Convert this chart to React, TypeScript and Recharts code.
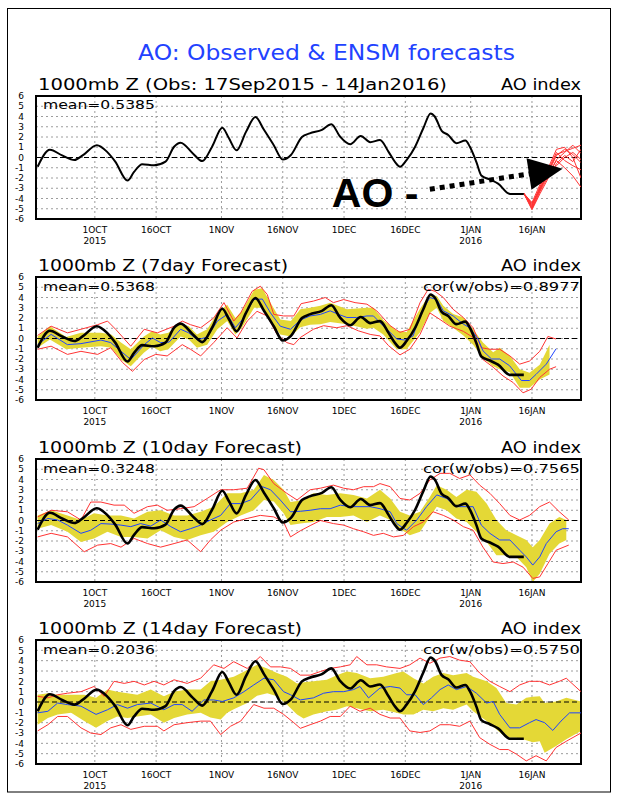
import React from 'react';
import { ComposedChart, Line, Area, XAxis, YAxis, CartesianGrid, ReferenceLine, ReferenceArea } from 'recharts';

// ---- axes ----
const tickDays = [14, 29, 45, 60, 75, 90, 106, 121];
const tickLabels = ['1OCT', '16OCT', '1NOV', '16NOV', '1DEC', '16DEC', '1JAN', '16JAN'];
const tickYears = ['2015', '', '', '', '', '', '2016', ''];
const yTicks = [-6, -5, -4, -3, -2, -1, 0, 1, 2, 3, 4, 5, 6];

// ---- observed AO (day 0 = 17 Sep 2015) ----
const obsAO: number[][] = [[0,-0.9],[3,0.75],[6,0.2],[9,-0.25],[11,0.2],[14.5,1.2],[17,0.55],[19,-0.4],[22,-2.25],[23.6,-1.4],[25.6,-0.65],[28.5,-0.75],[31.3,-0.4],[33.4,1.05],[35,1.45],[38,0.4],[40.3,-0.35],[42.7,1.05],[45.2,2.9],[46.8,1.9],[48.7,0.7],[51,2.5],[53.3,3.95],[55.4,2.7],[57.8,1.2],[60,-0.2],[62,0.25],[64.7,2.0],[66.6,2.35],[69.6,2.7],[71.9,3.25],[74,2.05],[76.5,1.3],[79.1,2.1],[81.4,1.5],[83.8,1.7],[85.9,0.55],[87.5,-0.45],[88.7,-0.9],[90.3,-0.25],[92.4,1.05],[94.4,2.85],[96.2,4.3],[97.2,4.0],[98.9,2.6],[100.5,2.2],[102.5,1.4],[104.7,1.65],[105.8,1.05],[107.4,-0.45],[108.6,-1.75],[110.7,-2.15],[112.7,-2.55],[115.6,-3.55],[119,-3.55]];

// ---- panel 1 ensemble members ----
const memberDays = [119, 121, 123, 125, 127, 129, 131, 133];
const member1 = [-3.5,-4.6,-3.0,-1.5,0.2,0.8,0.3,-0.5];
const member2 = [-3.5,-5.0,-3.3,-1.8,-0.2,0.5,1.2,0.4];
const member3 = [-3.5,-4.8,-2.8,-1.2,0.5,-0.3,-0.8,-1.2];
const member4 = [-3.5,-5.1,-3.5,-2.0,-0.6,0.2,-0.4,0.8];
const member5 = [-3.5,-4.4,-2.6,-1.0,0.8,1.0,0.0,-2.0];
const member6 = [-3.5,-4.7,-3.1,-1.6,-0.3,-1.0,-1.8,-2.9];
const member7 = [-3.5,-4.9,-3.2,-1.3,0.3,0.6,0.9,1.2];
const member8 = [-3.5,-4.5,-2.9,-1.7,-0.8,0.0,0.5,-0.2];
const members = [member1, member2, member3, member4, member5, member6, member7, member8];

// ---- 7 day forecast ----
const mean7: number[][] = [[0,-0.6],[3.3,0.4],[7.3,-0.6],[10.6,-0.5],[15.5,-0.15],[17.9,-0.4],[20.4,-1.25],[22.8,-2.05],[26.1,-0.6],[28.1,0.05],[30.1,-0.4],[32.2,-0.35],[35,0.9],[37,0.55],[39.1,-0.15],[41.5,0.15],[44,1.7],[46.4,2.35],[48.4,1.05],[50.1,1.85],[52.9,3.8],[55,3.85],[57,2.5],[59.4,1.2],[61.9,0.9],[64.3,1.8],[66.7,2.2],[69.2,2.35],[71.6,2.7],[73.7,2.35],[75.7,2.05],[78.1,2.05],[80.6,2.2],[82.2,2.2],[83.8,1.55],[85.9,0.75],[87.9,-0.05],[89.9,-0.15],[91.9,0.25],[93.9,2.55],[96,4.0],[97.7,3.8],[99.3,2.7],[101.7,2.2],[104.2,1.4],[105.8,1.05],[107.8,-0.05],[109,-1.2],[111.1,-2.0],[113.1,-2.0],[115.5,-2.65],[118.4,-4.1],[120.4,-4.1],[122,-3.5],[124.5,-2.5],[126.9,-1.0]];
const band7: number[][] = [[0,-0.9,0.2],[3,-0.1,1.2],[7,-1.05,0.15],[10.6,-0.9,0.55],[15.5,-0.75,0.55],[18,-0.9,0.4],[20.4,-2.05,-0.4],[22.8,-2.7,-1.05],[26,-1.4,0.2],[28,-0.75,0.7],[30,-1.25,0.4],[32,-1.05,0.55],[35,0.2,1.5],[37,-0.1,1.2],[39,-0.9,0.4],[41.5,-0.6,0.9],[44,0.9,2.5],[46.4,1.7,3.3],[48.4,0.4,2.0],[50,1.05,2.65],[53,3.0,4.75],[55,3.0,4.9],[57,1.7,3.5],[59.4,0.4,1.85],[62,0.2,1.7],[64.3,1.1,2.85],[66.7,1.35,3.0],[69.2,1.4,3.2],[71.6,1.6,3.5],[75.7,1.4,2.85],[80.6,0.95,3.0],[82.2,1.05,3.0],[84.6,0.4,1.8],[87.9,-1.05,0.75],[90.3,-1.05,0.6],[93.6,0.6,2.9],[96,2.5,4.3],[97.7,3.0,4.15],[99.3,1.7,3.2],[101.7,1.05,2.4],[104.2,0.3,2.05],[106.6,-0.6,0.9],[109,-1.9,-0.4],[111.5,-2.7,-1.35],[113.1,-3.0,-0.9],[115.6,-3.3,-1.7],[118,-4.8,-3.0],[120.4,-4.8,-3.35],[122.9,-4.0,-2.55],[125.3,-3.5,-0.6]];
const upper7: number[][] = [[0,0.3],[3.3,1.2],[7.3,0.55],[10.6,0.9],[14.7,1.35],[17.1,1.7],[19.1,0.9],[22.8,-0.75],[26.1,0.9],[29.3,0.55],[33.4,1.2],[35.4,1.7],[37.4,1.35],[39.9,1.05],[43.1,2.0],[45.6,3.5],[48,1.7],[49.7,2.5],[52.5,4.6],[54.5,5.1],[56.2,4.3],[57.8,2.35],[60.2,2.2],[62.7,2.2],[64.5,3.4],[67.5,3.65],[70.4,4.0],[72.4,3.5],[74.9,3.8],[77.7,3.5],[80.6,3.35],[83,2.7],[86.3,1.25],[88.7,0.6],[91.1,0.9],[93.6,3.5],[95.6,4.8],[97.3,4.6],[99.3,4.0],[101.7,2.85],[104.2,2.05],[106.6,1.05],[108.6,-0.9],[110.7,-1.05],[113.1,-1.05],[115.6,-1.7],[118,-2.5],[120.4,-2.2],[122.9,-1.25],[124.9,0.2],[126.9,-0.05]];
const lower7: number[][] = [[0,-1.05],[3.3,-0.75],[7.3,-1.55],[10.6,-1.25],[14.7,-1.55],[17.9,-0.9],[20.8,-2.35],[23.2,-3.2],[26.1,-2.05],[28.9,-1.55],[31.7,-1.7],[35.4,-0.6],[37.4,-1.05],[39.9,-1.7],[43.1,-0.4],[46.4,1.05],[48.8,0.05],[51.3,1.7],[53.7,2.65],[56.2,2.2],[58.6,0.4],[61,-0.4],[62.7,-0.6],[64.3,0.1],[67.5,0.9],[70,1.25],[73.2,1.05],[75.7,1.25],[78.5,0.75],[81.4,0.4],[83.8,0.25],[85.9,-0.7],[88.7,-1.6],[91.1,-1.05],[93.6,0.4],[96,2.5],[98.5,1.85],[100.9,1.2],[104.2,0.7],[106.6,0.1],[109,-2.05],[111.5,-2.8],[113.9,-3.65],[116.4,-4.3],[118.8,-5.3],[120.8,-4.95],[122.9,-3.8],[125.3,-3.0],[126.9,-2.75]];

// ---- 10 day forecast ----
const mean10: number[][] = [[0,-0.3],[2.5,0.2],[4.9,0.05],[7.3,-0.45],[10.6,-1.25],[13,-0.95],[15.5,-0.3],[17.9,-0.35],[20.4,-0.45],[22.8,-0.6],[25.2,-0.3],[27.7,-0.55],[30.1,0.05],[32.6,-0.6],[35,-1.1],[37.4,-0.8],[39.9,-0.45],[42.3,0.05],[44.8,0.5],[47.2,1.65],[49.7,1.65],[52.1,2.0],[55,3.3],[57,3.0],[59.4,2.0],[61.9,0.85],[64.3,0.9],[66.7,1.0],[69.2,1.15],[71.6,1.15],[74.1,1.5],[76.5,1.35],[78.9,1.35],[81.4,1.35],[83.8,1.15],[86.3,0.85],[87.9,-0.3],[90.3,-0.95],[92.8,0.05],[95.2,1.35],[97.7,2.5],[100.1,2.15],[102.5,1.35],[105,1.35],[106.6,1.35],[108.6,-0.45],[110.7,-1.25],[113.1,-1.9],[115.6,-1.9],[118,-2.9],[119.6,-3.55],[121.2,-4.35],[122.9,-3.55],[124.5,-2.25],[126.9,-1.1],[128.5,-0.8],[130,-0.8]];
const band10: number[][] = [[0,-0.8,0.5],[3.3,-0.45,1.0],[7.3,-1.1,0.5],[10.6,-2.1,0.05],[13.8,-1.75,0.7],[17.1,-1.1,0.5],[20.4,-1.6,0.5],[23.6,-1.6,0.2],[26.9,-1.75,0.85],[30.1,-0.95,1.0],[33.4,-1.6,0.5],[36.6,-1.9,0.5],[39.9,-1.45,0.85],[43.1,-1.1,1.35],[46.4,-0.15,2.65],[49.7,0.5,2.65],[52.9,1.0,3.0],[55.4,2.0,4.45],[57.8,1.85,3.95],[60.2,0.7,3.0],[61.9,-0.45,1.8],[64.3,-0.3,1.95],[67.5,-0.15,2.65],[70.8,0.35,2.5],[74.1,0.35,2.65],[77.3,0.5,2.5],[80.6,-0.15,2.15],[83.8,0.5,3.0],[86.3,0.05,2.15],[88.7,-0.8,0.85],[91.1,-1.45,0.5],[93.6,-1.1,0.85],[96,0.35,2.3],[97.7,1.35,3.45],[100.1,1.0,3.0],[102.5,0.2,2.3],[105,-0.15,3.0],[107.4,-1.1,2.8],[109.9,-2.1,1.65],[112.3,-3.4,0.05],[114.7,-3.4,-0.95],[117.2,-3.55,-1.45],[119.6,-4.55,-1.9],[121.2,-6.0,-2.6],[122.9,-5.2,-1.9],[125.3,-3.25,-0.3],[127.7,-2.25,0.35],[129.4,-1.9,0.05]];
const upper10: number[][] = [[0,0.35],[3.3,1.0],[7.3,0.85],[10.6,0.05],[13,1.8],[15.5,1.8],[18.7,1.5],[21.2,1.5],[23.6,0.7],[26.9,1.35],[29.3,1.5],[31.7,1.0],[35,1.15],[38.3,1.35],[41.5,2.15],[44.8,3.0],[48,3.0],[51.3,3.15],[54.1,5.1],[55.4,4.95],[57.8,3.6],[61,2.65],[63.5,2.0],[66.7,3.0],[69.2,3.15],[72.4,3.45],[74.9,3.15],[77.3,3.0],[79.8,3.3],[82.2,3.3],[83.8,3.6],[86.3,3.3],[88.7,2.15],[91.1,2.0],[93.6,2.65],[96,3.95],[98.5,4.6],[100.9,4.6],[103.3,4.1],[105.8,4.45],[108.2,3.45],[110.7,2.65],[113.1,1.65],[115.6,0.5],[118,0.05],[120.4,0.5],[122.9,1.35],[125.3,1.8],[127.7,0.85],[130,0.05]];
const lower10: number[][] = [[0,-1.6],[3.3,-1.25],[7.3,-1.6],[11.4,-3.05],[14.7,-2.4],[17.9,-2.25],[20.4,-2.6],[23.6,-1.75],[26.9,-2.25],[30.1,-2.6],[33.4,-2.25],[36.6,-1.9],[39.9,-3.05],[42.3,-1.9],[44.8,-0.95],[48,-0.15],[51.3,0.2],[54.5,0.5],[57.8,0.35],[60.2,-0.15],[61.9,-1.6],[64.3,-1.0],[66.7,-0.5],[69.2,0.0],[72.4,-0.3],[74.9,-0.45],[77.3,-0.8],[79.8,-1.1],[82.2,-1.45],[84.6,-1.25],[87.1,-1.6],[89.5,-1.45],[92,-0.6],[94.4,-0.15],[96.8,0.85],[99.3,0.5],[101.7,0.05],[104.2,-0.6],[106.6,-0.95],[109,-2.6],[111.5,-4.05],[113.9,-4.2],[116.4,-4.05],[118.8,-4.55],[121.2,-5.65],[122.9,-5.5],[124.9,-4.2],[126.9,-2.9],[130,-2.4]];

// ---- 14 day forecast ----
const mean14: number[][] = [[0,-1.05],[2.5,-0.9],[4.9,-0.1],[7.3,-0.25],[10.6,-0.4],[14.3,-1.2],[17.1,-0.75],[19.5,-0.25],[22,-0.6],[24.4,-0.25],[27.7,-0.1],[30.9,-0.75],[33.4,-0.25],[35.4,-0.25],[37.8,-0.9],[40.7,0.2],[43.1,0.2],[45.2,0.05],[48,0.4],[50.5,1.0],[52.9,1.65],[55.4,2.3],[57.8,2.15],[60.2,1.0],[61.9,0.7],[64.3,0.2],[67.5,0.4],[70,0.85],[72.4,1.0],[74.9,1.0],[77.3,1.2],[78.9,1.5],[81,0.4],[83.8,1.35],[86.3,1.5],[88.7,1.35],[90.3,0.7],[92.4,0.7],[94.4,-0.25],[96.4,0.4],[98.5,1.2],[100.5,1.65],[102.5,1.2],[105,1.5],[107.4,0.85],[109.9,-0.1],[111.5,0.05],[113.1,-1.2],[115.6,-2.5],[118,-2.5],[120.4,-2.0],[122,-1.7],[124.1,-2.0],[126.1,-2.75],[128.1,-1.85],[130.2,-1.05],[133,-1.05]];
const band14: number[][] = [[0,-2.2,0.7],[2.5,-1.55,0.85],[4.9,-1.2,0.7],[8.2,-1.05,0.7],[11.4,-1.85,0.7],[14.3,-2.5,0.4],[17.1,-1.85,1.2],[19.5,-1.4,1.0],[22,-1.55,0.85],[24.4,-1.4,0.7],[27.7,-1.2,1.2],[30.9,-2.0,0.55],[33.4,-1.55,1.0],[36.6,-1.2,1.2],[39.9,-1.05,1.2],[42.3,-1.5,2.0],[44.8,-1.7,2.15],[46.4,-1.05,2.3],[48,-0.7,2.45],[51.3,-0.1,3.1],[53.7,0.6,3.6],[56.2,0.85,3.25],[58.6,0.55,2.8],[61,-0.25,2.45],[63.5,-1.2,1.8],[65.1,-1.6,1.9],[67.5,-1.2,2.0],[70.8,-0.9,2.15],[73.2,-0.75,2.6],[75.7,-0.4,2.95],[78.1,-0.6,2.8],[81.4,-0.9,2.3],[84.6,-0.75,2.45],[87.9,-1.05,2.8],[89.5,-1.2,2.95],[92,-1.2,2.3],[94.4,-0.75,1.8],[96.8,-0.9,2.45],[99.3,-0.6,2.8],[101.7,-0.75,2.6],[105,-0.25,2.8],[106.6,-0.9,2.45],[109.9,-1.85,2.0],[112.3,-2.65,1.35],[114.7,-3.45,-0.1],[117.2,-3.45,-0.25],[119.6,-3.7,0.4],[121.2,-3.9,0.5],[122.9,-3.8,0.55],[124.1,-4.9,-0.1],[126.9,-4.25,0.05],[129.4,-3.6,0.4],[133,-2.8,0.05]];
const upper14: number[][] = [[0,0.55],[2.5,0.4],[4.9,0.7],[7.3,0.85],[10.6,1.0],[13.8,1.5],[16.3,0.55],[18.7,2.0],[21.2,1.8],[23.6,2.0],[26.1,1.65],[28.5,2.0],[30.9,1.65],[33.4,2.15],[36.6,1.8],[39.9,2.3],[43.1,3.6],[45.6,3.25],[48,3.9],[51.3,3.25],[54.5,4.4],[57,3.4],[59.4,3.4],[61.9,3.25],[64.3,2.6],[66.7,2.6],[69.2,2.95],[71.6,3.25],[74.1,3.4],[76.5,3.6],[78.1,4.4],[80.6,3.6],[83,3.6],[85.4,3.4],[88.7,3.25],[91.1,3.6],[93.6,4.25],[96,3.75],[98.5,4.25],[100.9,4.4],[103.3,4.05],[105.8,3.9],[108.2,2.8],[110.7,2.0],[113.1,1.5],[115.6,1.0],[118,1.65],[120.4,2.0],[122.9,2.0],[125.3,1.65],[127.7,2.0],[129.4,2.3],[133,1.0]];
const lower14: number[][] = [[0,-2.8],[2.5,-2.2],[4.9,-1.4],[7.3,-1.4],[10.6,-2.5],[13,-3.0],[15.5,-3.15],[17.9,-2.5],[20.4,-2.2],[22.8,-2.65],[26.1,-2.35],[29.3,-2.35],[30.9,-2.8],[33.4,-2.2],[36.6,-2.0],[39.9,-1.85],[42.3,-1.85],[44.8,-3.15],[47.2,-2.35],[49.7,-1.85],[52.9,-0.25],[55.4,-0.6],[57.8,-0.6],[60.2,-1.2],[62.7,-2.0],[64.3,-2.55],[66.7,-2.2],[69.2,-1.85],[71.6,-1.4],[74.1,-1.4],[76.5,-0.4],[78.9,-0.9],[81.4,-0.6],[83.8,-1.2],[86.3,-1.55],[88.7,-1.55],[91.1,-2.8],[93.6,-2.95],[96,-2.8],[98.5,-2.2],[100.9,-2.2],[103.3,-2.35],[105.8,-1.85],[108.2,-3.45],[110.7,-4.1],[113.1,-4.6],[115.2,-4.6],[117.2,-5.05],[119.6,-5.7],[122,-5.2],[124.5,-5.7],[126.9,-4.4],[129.4,-3.8],[133,-3.0]];

// ---- texts ----
const mainTitle = 'AO: Observed & ENSM forecasts';
const panelTitles = ['1000mb Z (Obs: 17Sep2015 - 14Jan2016)', '1000mb Z (7day Forecast)', '1000mb Z (10day Forecast)', '1000mb Z (14day Forecast)'];
const meanLabels = ['mean=0.5385', 'mean=0.5368', 'mean=0.3248', 'mean=0.2036'];
const corLabels = ['', 'cor(w/obs)=0.8977', 'cor(w/obs)=0.7565', 'cor(w/obs)=0.5750'];

// ---- styling ----
const YEL = '#e4d836';
const RED = '#ff3434';
const BLUE = '#1f44ff';
const FONT = 'DejaVu Sans, sans-serif';
const PLOT_LEFT = 36;
const PLOT_RIGHT_MARGIN = 37;
const PANEL_TOPS = [95.5, 277, 459, 640];
const PANEL_H = [123, 123, 123, 124];
const TITLE_W = [409, 250, 264, 264];

const pts = (a: number[][]) => a.map(([d, v]) => ({ d, v }));
const bandPts = (a: number[][]) => a.map(([d, lo, hi]) => ({ d, r: [lo, hi] }));

const XTick = (props: any) => {
  const { x, y, payload } = props;
  const i = tickDays.indexOf(payload.value);
  return (
    <g>
      <text x={x} y={y + 14} textAnchor="middle" fontSize={9} fontFamily={FONT} fill="#000">{tickLabels[i]}</text>
      {tickYears[i] ? <text x={x} y={y + 25} textAnchor="middle" fontSize={9} fontFamily={FONT} fill="#000">{tickYears[i]}</text> : null}
    </g>
  );
};

const ArrowShape = (props: any) => {
  const { x1, y1, x2, y2 } = props;
  if (x1 == null) return null;
  const dx = x2 - x1, dy = y2 - y1;
  const len = Math.sqrt(dx * dx + dy * dy);
  const ux = dx / len, uy = dy / len;
  const headLen = 34, half = 16;
  const bx = x2 - ux * headLen, by = y2 - uy * headLen;
  const nx = -uy, ny = ux;
  return (
    <g>
      <line x1={x1} y1={y1} x2={bx + ux * 2} y2={by + uy * 2} stroke="#000" strokeWidth={5} strokeDasharray="5 5" />
      <polygon points={`${x2},${y2} ${bx + nx * half},${by + ny * half} ${bx - nx * half},${by - ny * half}`} fill="#000" />
      <text x={x1 - 98} y={y1 + 18} fontSize={41} fontWeight="bold" fontFamily="Liberation Sans, Arial, sans-serif" fill="#000">AO -</text>
    </g>
  );
};

type PanelProps = {
  idx: number;
  band?: number[][];
  mean?: number[][];
  upper?: number[][];
  lower?: number[][];
};

const Panel = ({ idx, band, mean, upper, lower }: PanelProps) => {
  const M = 5;
  const h = PANEL_H[idx];
  const obsW = idx === 0 ? 2 : 2.6;
  return (
    <div style={{ position: 'absolute', left: 0, top: PANEL_TOPS[idx] - M }}>
      <ComposedChart width={618} height={h + M + 40} margin={{ top: M, right: PLOT_RIGHT_MARGIN, bottom: 0, left: 0 }}>
        <CartesianGrid stroke="#9c9c9c" strokeDasharray="2 3" strokeWidth={1} />
        <XAxis type="number" dataKey="d" domain={[-0.4, 133]} allowDataOverflow ticks={tickDays} interval={0}
          tick={<XTick />} tickLine={false} axisLine={false} tickSize={0} tickMargin={0} height={40} />
        <YAxis type="number" domain={[-6, 6]} allowDataOverflow ticks={yTicks} interval={0} width={PLOT_LEFT}
          tickLine={false} axisLine={false} tickMargin={6}
          tick={{ fontSize: 9, fill: '#000', fontFamily: FONT }} />
        {band ? (
          <Area data={bandPts(band)} dataKey="r" type="linear" stroke="none" fill={YEL} fillOpacity={1}
            isAnimationActive={false} dot={false} activeDot={false} />
        ) : null}
        <ReferenceLine y={0} stroke="#000" strokeWidth={1} strokeDasharray="5 3" />
        {upper ? <Line data={pts(upper)} dataKey="v" type="linear" stroke={RED} strokeWidth={1} dot={false} activeDot={false} isAnimationActive={false} /> : null}
        {lower ? <Line data={pts(lower)} dataKey="v" type="linear" stroke={RED} strokeWidth={1} dot={false} activeDot={false} isAnimationActive={false} /> : null}
        {idx === 0 ? members.map((m, k) => (
          <Line key={k} data={m.map((v, j) => ({ d: memberDays[j], v }))} dataKey="v" type="linear" stroke={RED}
            strokeWidth={1} dot={false} activeDot={false} isAnimationActive={false} />
        )) : null}
        {mean ? <Line data={pts(mean)} dataKey="v" type="linear" stroke={BLUE} strokeWidth={1} dot={false} activeDot={false} isAnimationActive={false} /> : null}
        <Line data={pts(obsAO)} dataKey="v" type="monotone" stroke="#000" strokeWidth={obsW} dot={false} activeDot={false} isAnimationActive={false} />
        {idx === 0 ? (
          <ReferenceLine segment={[{ x: 96, y: -3.1 }, { x: 128.5, y: -1.1 }]} shape={ArrowShape} ifOverflow="visible" />
        ) : null}
        <ReferenceArea x1={-0.4} x2={133} y1={-6} y2={6} fill="none" fillOpacity={0} stroke="#000" strokeWidth={2} ifOverflow="visible" />
      </ComposedChart>
    </div>
  );
};

export default function App() {
  return (
    <div style={{ position: 'absolute', left: 0, top: 0, width: 618, height: 800, background: '#fff', fontFamily: FONT }}>
      <Panel idx={0} />
      <Panel idx={1} band={band7} mean={mean7} upper={upper7} lower={lower7} />
      <Panel idx={2} band={band10} mean={mean10} upper={upper10} lower={lower10} />
      <Panel idx={3} band={band14} mean={mean14} upper={upper14} lower={lower14} />
      <svg width={618} height={800} style={{ position: 'absolute', left: 0, top: 0, pointerEvents: 'none' }}>
        <rect x={7.5} y={8.5} width={603} height={783.5} fill="none" stroke="#000" strokeWidth={1} />
        <text x={138} y={60} fontSize={21} fontFamily={FONT} fill="#2242ff" textLength={377} lengthAdjust="spacingAndGlyphs">{mainTitle}</text>
        {PANEL_TOPS.map((t, i) => (
          <g key={i}>
            <text x={38} y={t - 6} fontSize={16} fontFamily={FONT} fill="#000" textLength={TITLE_W[i]} lengthAdjust="spacingAndGlyphs">{panelTitles[i]}</text>
            <text x={501} y={t - 6} fontSize={16} fontFamily={FONT} fill="#000" textLength={80} lengthAdjust="spacingAndGlyphs">AO index</text>
            <text x={43} y={t + 13.7} fontSize={12.5} fontFamily={FONT} fill="#000" textLength={112} lengthAdjust="spacingAndGlyphs">{meanLabels[i]}</text>
            {corLabels[i] ? (
              <text x={423} y={t + 13.7} fontSize={12.5} fontFamily={FONT} fill="#000" textLength={157} lengthAdjust="spacingAndGlyphs">{corLabels[i]}</text>
            ) : null}
          </g>
        ))}
      </svg>
    </div>
  );
}
